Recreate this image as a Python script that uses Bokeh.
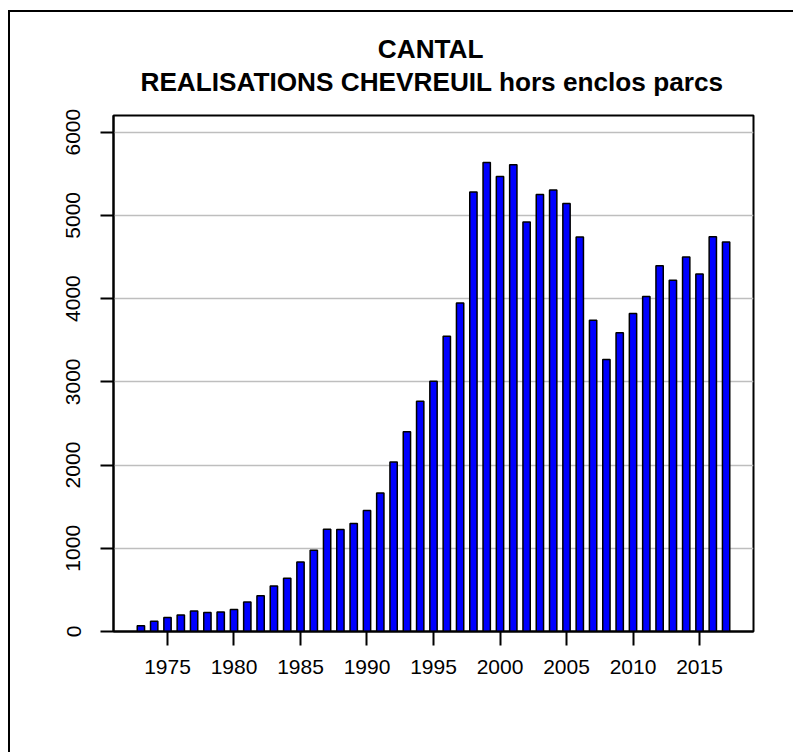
from bokeh.plotting import figure
from bokeh.models import Range1d, FixedTicker, Title, ColumnDataSource
from bokeh.embed import file_html
from bokeh.resources import INLINE

# ---- data ----
years = [1973, 1974, 1975, 1976, 1977, 1978, 1979, 1980, 1981, 1982,
         1983, 1984, 1985, 1986, 1987, 1988, 1989, 1990, 1991, 1992,
         1993, 1994, 1995, 1996, 1997, 1998, 1999, 2000, 2001, 2002,
         2003, 2004, 2005, 2006, 2007, 2008, 2009, 2010, 2011, 2012,
         2013, 2014, 2015, 2016, 2017]
realisations = [68, 124, 169, 197, 245, 229, 233, 265, 353, 430,
                546, 639, 835, 976, 1229, 1225, 1297, 1454, 1663, 2036,
                2400, 2768, 3008, 3548, 3948, 5280, 5636, 5468, 5608, 4920,
                5252, 5304, 5144, 4740, 3739, 3267, 3591, 3820, 4026, 4396,
                4220, 4500, 4296, 4744, 4680]
x_ticks = [1975, 1980, 1985, 1990, 1995, 2000, 2005, 2010, 2015]
y_ticks = [0, 1000, 2000, 3000, 4000, 5000, 6000]
title_lines = ["CANTAL", "REALISATIONS CHEVREUIL hors enclos parcs"]

# ---- layout (canvas starts at page x=10, y=12 after CSS margin+border) ----
OX, OY = 10, 12
W, H = 785, 742
ML = 113 - OX
MT = 115 - OY
MR = W - (753 - OX)
MB = H - (631 - OY)
X0, X1 = 1970.94, 2019.06
Y0, Y1 = 0, 6200
FONT = "Liberation Sans"

p = figure(width=W, height=H, title=None,
           x_range=Range1d(X0, X1), y_range=Range1d(Y0, Y1),
           output_backend="svg", toolbar_location=None,
           min_border_left=ML, min_border_right=MR,
           min_border_top=MT, min_border_bottom=MB)
p.styles = {"margin-left": "8px", "margin-top": "10px",
            "border-left": "2px solid black", "border-top": "2px solid black"}
p.background_fill_color = "white"
p.border_fill_color = "white"
p.outline_line_color = "black"
p.outline_line_width = 2

p.xgrid.grid_line_color = None
p.ygrid.ticker = FixedTicker(ticks=y_ticks)
p.ygrid.grid_line_color = "#bebebe"
p.ygrid.grid_line_width = 1.5

for ax, ticks, tick_len in ((p.xaxis, x_ticks, 14), (p.yaxis, y_ticks, 13)):
    ax.ticker = FixedTicker(ticks=ticks)
    ax.major_tick_out = tick_len
    ax.major_tick_in = 0
    ax.minor_tick_out = 0
    ax.minor_tick_in = 0
    ax.axis_line_color = "black"
    ax.axis_line_width = 2
    ax.major_tick_line_color = "black"
    ax.major_tick_line_width = 2
    ax.major_label_text_font = FONT
    ax.major_label_text_font_size = "21px"
    ax.major_label_text_color = "black"
p.xaxis.major_label_standoff = 14
p.yaxis.major_label_standoff = 20
p.yaxis.major_label_orientation = "vertical"

src = ColumnDataSource(data=dict(year=years, value=realisations))
p.vbar(x="year", top="value", bottom=0, width=0.55, source=src,
       fill_color="#0000FF", line_color="black", line_width=1.5)

# titles: second line nearest the frame, then the first line above it
# right-aligned with offsets so both lines are centred near page x=429
t2 = Title(text=title_lines[1], align="right", standoff=37, offset=30,
           text_font=FONT, text_font_style="bold",
           text_font_size="26.2px", text_color="black")
t1 = Title(text=title_lines[0], align="right", standoff=-35.6, offset=270,
           text_font=FONT, text_font_style="bold",
           text_font_size="26.2px", text_color="black")
p.add_layout(t2, "above")
p.add_layout(t1, "above")

open("out.html", "w").write(file_html(p, INLINE))
